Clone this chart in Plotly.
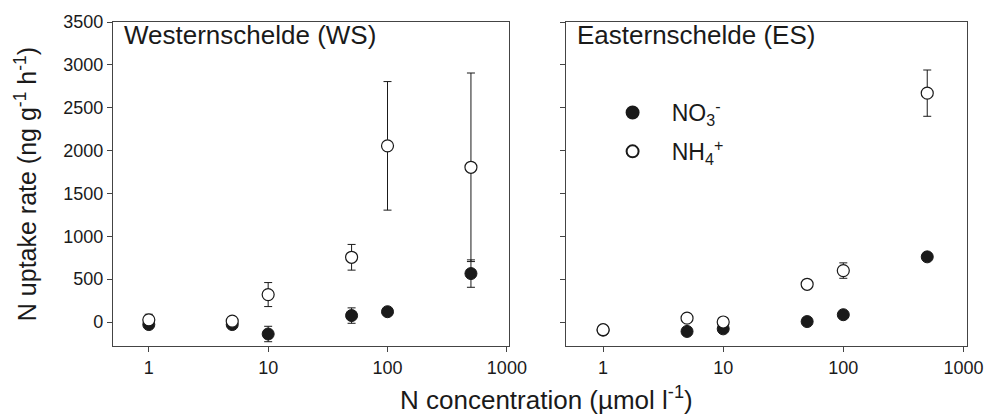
import plotly.graph_objects as go

conc = [1, 5, 10, 50, 100, 500]

ws_no3 = [-30, -30, -140, 75, 120, 565]
ws_no3_err = [30, 20, 90, 90, 40, 160]
ws_nh4 = [25, 10, 320, 755, 2055, 1805]
ws_nh4_err = [65, 20, 140, 150, 750, 1100]

es_no3 = [-95, -110, -80, 5, 85, 760]
es_no3_err = [0, 0, 30, 0, 30, 0]
es_nh4 = [-90, 45, 0, 440, 600, 2670]
es_nh4_err = [0, 0, 0, 0, 90, 270]

panel_titles = ["Westernschelde (WS)", "Easternschelde (ES)"]
y_ticks = [0, 500, 1000, 1500, 2000, 2500, 3000, 3500]
x_ticks = [1, 10, 100, 1000]

FONT = "Liberation Sans, Arial, sans-serif"
INK = "#1a1a1a"
PAD = "\u00a0\u00a0\u00a0"

fig = go.Figure()

def add_pair(no3, no3e, nh4, nh4e, xa, ya, show):
    fig.add_trace(go.Scatter(
        x=conc, y=no3, mode="markers", name=PAD + "NO<sub>3</sub><sup>-</sup>",
        xaxis=xa, yaxis=ya, showlegend=show, legendgroup="a",
        marker=dict(symbol="circle", size=12, color=INK, line=dict(color=INK, width=1)),
        error_y=dict(type="data", array=no3e, visible=True, color=INK, thickness=1, width=4),
    ))
    fig.add_trace(go.Scatter(
        x=conc, y=nh4, mode="markers", name=PAD + "NH<sub>4</sub><sup>+</sup>",
        xaxis=xa, yaxis=ya, showlegend=show, legendgroup="b",
        marker=dict(symbol="circle", size=12, color="white", line=dict(color=INK, width=1.2)),
        error_y=dict(type="data", array=nh4e, visible=True, color=INK, thickness=1, width=4),
    ))

add_pair(ws_no3, ws_no3_err, ws_nh4, ws_nh4_err, "x", "y", False)
add_pair(es_no3, es_no3_err, es_nh4, es_nh4_err, "x2", "y2", True)

axis_common = dict(
    showline=True, mirror=True, linecolor="#444", linewidth=1.2,
    ticks="outside", ticklen=5, tickcolor="#444", showgrid=False, zeroline=False,
    tickfont=dict(family=FONT, size=18, color=INK),
)

fig.update_layout(
    width=997, height=414,
    margin=dict(l=113, r=20, t=16, b=68),
    paper_bgcolor="white", plot_bgcolor="white",
    font=dict(family=FONT, color=INK),
    xaxis=dict(type="log", domain=[0, 0.464], range=[-0.3, 3.02],
               tickvals=x_ticks, ticktext=[str(v) for v in x_ticks], **axis_common),
    xaxis2=dict(type="log", domain=[0.531, 1.0], range=[-0.305, 3.03], anchor="y2",
                tickvals=x_ticks, ticktext=[str(v) for v in x_ticks], **axis_common),
    yaxis=dict(range=[-280, 3500], tickvals=y_ticks, **axis_common,
               title=dict(text="N uptake rate (ng g<sup>-1</sup> h<sup>-1</sup>)",
                          font=dict(family=FONT, size=25, color=INK), standoff=19)),
    yaxis2=dict(range=[-280, 3500], tickvals=y_ticks, anchor="x2", showticklabels=False,
                **axis_common),
    showlegend=True,
    legend=dict(x=0.585, y=0.787, xanchor="left", yanchor="top",
                bgcolor="rgba(0,0,0,0)", font=dict(family=FONT, size=23, color=INK),
                itemsizing="constant", tracegroupgap=6),
)

for xa, ya, t in zip(["x", "x2"], ["y", "y2"], panel_titles):
    fig.add_annotation(text=t, xref=f"{xa} domain", yref=f"{ya} domain",
                       x=0.022, y=1.012, xanchor="left", yanchor="top", showarrow=False,
                       font=dict(family=FONT, size=26, color=INK))

fig.add_annotation(text="N concentration (µmol l<sup>-1</sup>)", xref="paper", yref="paper",
                   x=0.508, y=-0.105, xanchor="center", yanchor="top", showarrow=False,
                   font=dict(family=FONT, size=26, color=INK))

fig.write_html("out.html")
